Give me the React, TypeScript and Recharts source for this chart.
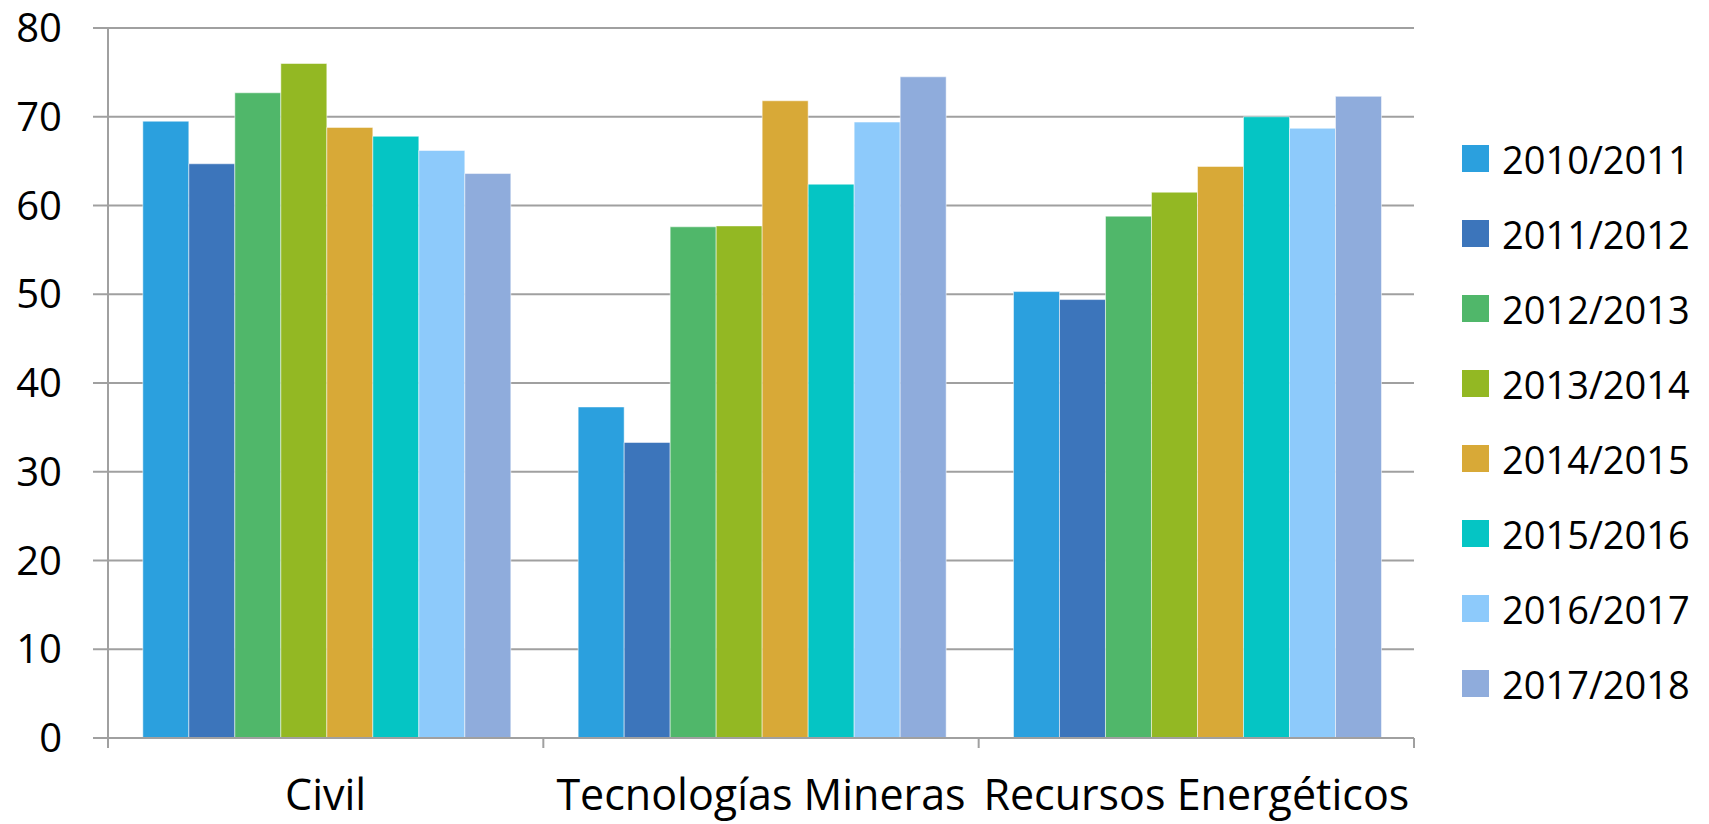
import { BarChart, Bar, CartesianGrid, XAxis, YAxis, Legend } from 'recharts';

const categories = ['Civil', 'Tecnologías Mineras', 'Recursos Energéticos'];

const seriesNames = [
    '2010/2011', '2011/2012', '2012/2013', '2013/2014',
    '2014/2015', '2015/2016', '2016/2017', '2017/2018',
];

const seriesColors = [
    '#2BA0DE', '#3C75BB', '#50B76A', '#93B823',
    '#D8A937', '#05C5C4', '#8DCAFB', '#8FACDC',
];

// one list per academic year, in category order
const v2010 = [69.5, 37.3, 50.3];
const v2011 = [64.7, 33.3, 49.4];
const v2012 = [72.7, 57.6, 58.8];
const v2013 = [76.0, 57.7, 61.5];
const v2014 = [68.8, 71.8, 64.4];
const v2015 = [67.8, 62.4, 70.0];
const v2016 = [66.2, 69.4, 68.7];
const v2017 = [63.6, 74.5, 72.3];

const seriesValues = [v2010, v2011, v2012, v2013, v2014, v2015, v2016, v2017];

const yTicks = [0, 10, 20, 30, 40, 50, 60, 70, 80];

const data = categories.map((cat, ci) => {
    const row: Record<string, string | number> = { category: cat };
    seriesNames.forEach((name, si) => {
        row[name] = seriesValues[si][ci];
    });
    return row;
});

const FONT = '"Open Sans", sans-serif';
const AXIS = '#a0a0a0';

function CategoryTick(props: any) {
    const { x, y, payload, index, visibleTicksCount } = props;
    const half = payload.offset ?? 0;
    const top = y - 10;
    return (
        <g>
            <line x1={x - half} y1={top} x2={x - half} y2={top + 10} stroke={AXIS} strokeWidth={2} />
            {index === visibleTicksCount - 1 && (
                <line x1={x + half} y1={top} x2={x + half} y2={top + 10} stroke={AXIS} strokeWidth={2} />
            )}
            <text x={x} y={y + 62} textAnchor="middle" fontFamily={FONT} fontSize={43} fill="#000">
                {payload.value}
            </text>
        </g>
    );
}

function LegendList(props: any) {
    const items = props.payload || [];
    return (
        <div style={{ fontFamily: FONT, fontSize: 38, color: '#000' }}>
            {items.map((item: any) => (
                <div key={item.value} style={{ display: 'flex', alignItems: 'center', height: 75 }}>
                    <span style={{ display: 'inline-block', width: 27, height: 27, background: item.color, marginRight: 13 }} />
                    <span>{item.value}</span>
                </div>
            ))}
        </div>
    );
}

export default function App() {
    return (
        <div style={{ position: 'absolute', left: 0, top: 0, width: 1709, height: 824, background: '#fff' }}>
            <BarChart
                width={1709}
                height={824}
                data={data}
                margin={{ top: 28, right: 295, left: 0, bottom: 56 }}
                barCategoryGap="8%"
                barGap={0}
            >
                <CartesianGrid vertical={false} stroke={AXIS} strokeWidth={2} />
                <XAxis
                    dataKey="category"
                    axisLine={{ stroke: AXIS, strokeWidth: 2 }}
                    tickLine={false}
                    interval={0}
                    tick={<CategoryTick />}
                    tickSize={10}
                    tickMargin={0}
                />
                <YAxis
                    width={108}
                    domain={[0, 80]}
                    ticks={yTicks}
                    interval={0}
                    axisLine={{ stroke: AXIS, strokeWidth: 2 }}
                    tickLine={{ stroke: AXIS, strokeWidth: 2 }}
                    tickSize={15}
                    tickMargin={31}
                    tick={{ fontFamily: FONT, fontSize: 40, fill: '#000' }}
                />
                <Legend
                    layout="vertical"
                    align="center"
                    verticalAlign="middle"
                    content={<LegendList />}
                    wrapperStyle={{ left: 1462, top: 121, width: 247 }}
                />
                {seriesNames.map((name, i) => (
                    <Bar
                        key={name}
                        dataKey={name}
                        fill={seriesColors[i]}
                        stroke="rgba(255,255,255,0.5)"
                        strokeWidth={1}
                        isAnimationActive={false}
                    />
                ))}
            </BarChart>
        </div>
    );
}
